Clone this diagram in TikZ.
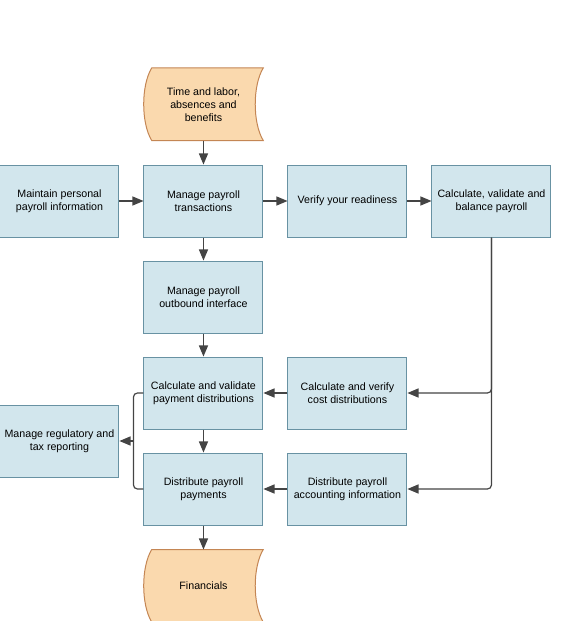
\documentclass[tikz,border=0pt]{standalone}
\usepackage{fontspec}
\setmainfont{Liberation Sans}
\usetikzlibrary{arrows}
\usetikzlibrary{calc}
\usetikzlibrary{positioning}

\definecolor{boxFill}{RGB}{210,230,237}
\definecolor{boxLine}{RGB}{104,146,163}
\definecolor{tapeFill}{RGB}{250,217,174}
\definecolor{tapeLine}{RGB}{196,134,84}
\definecolor{flowLine}{RGB}{68,68,68}

\begin{document}
\begin{tikzpicture} [
        node distance = 17.25pt and 18pt,
        every node/.style = {
          align = center,
          font = \fontsize{8}{9.75}\selectfont,
        },
        procbox/.style = {
          draw = boxLine,
          fill = boxFill,
          line width = 0.75pt,
          minimum width = 89.25pt,
          minimum height = 54pt,
          inner sep = 0pt,
        },
        tapebox/.style = {
          minimum width = 89.25pt,
          minimum height = 54pt,
          inner sep = 0pt,
        },
        tapeline/.style = {
          draw = tapeLine,
          fill = tapeFill,
          line width = 0.75pt,
        },
        flow/.style = {
          draw = flowLine,
          line width = 0.9pt,
          -triangle 45,
        },
        bracket/.style = {
          draw = flowLine,
          line width = 0.9pt,
          rounded corners = 3pt,
        }
      ]

    \useasboundingbox (0,0) rectangle (429.75pt,-465.75pt);

    % textboxes
    \node [procbox] at (152.6pt,-150.75pt) (trans) {Manage payroll\\transactions};
    \node [procbox, left = of trans] (maintain) {Maintain personal\\payroll information};
    \node [procbox, right = of trans] (verify) {Verify your readiness};
    \node [procbox, right = of verify] (balance) {Calculate, validate and\\balance payroll};
    \node [procbox, below = of trans] (outbound) {Manage payroll\\outbound interface};
    \node [procbox, below = of outbound] (validate) {Calculate and validate\\payment distributions};
    \node [procbox, right = of validate] (cost) {Calculate and verify\\cost distributions};
    \node [procbox, below = of validate] (distribute) {Distribute payroll\\payments};
    \node [procbox, right = of distribute] (accounting) {Distribute payroll\\accounting information};
    \coordinate (midVD) at ($(validate)!.5!(distribute)$);
    \node [procbox] at (midVD -| maintain) (regulatory) {Manage regulatory and\\tax reporting};

    % tapes
    \node [tapebox, above = 18pt of trans] (source) {};
    \node [tapebox, below = 18pt of distribute] (financials) {};
    \foreach \t in {source, financials} {
      \path[tapeline] ($(\t.north west)+(6pt,0)$) -- (\t.north east)
        .. controls ($(\t.east)+(-8pt,14pt)$) and ($(\t.east)+(-8pt,-14pt)$) .. (\t.south east)
        -- ($(\t.south west)+(6pt,0)$)
        .. controls ($(\t.west)+(-2pt,-14pt)$) and ($(\t.west)+(-2pt,14pt)$) .. cycle;
    }
    \node at (source) {Time and labor,\\absences and\\benefits};
    \node at (financials) {Financials};

    \draw[flow] (source) -- (trans);
    \draw[flow] (maintain) -- (trans);
    \draw[flow] (trans) -- (verify);
    \draw[flow] (verify) -- (balance);
    \draw[flow] (trans) -- (outbound);
    \draw[flow] (outbound) -- (validate);
    \draw[flow] (validate) -- (distribute);
    \draw[flow] (distribute) -- (financials);
    \draw[flow] (cost) -- (validate);
    \draw[flow] (accounting) -- (distribute);

    \draw[flow, rounded corners = 3pt] (balance.south) |- (cost.east);
    \draw[flow, rounded corners = 3pt] (balance.south) |- (accounting.east);

    \coordinate (brkTop) at ($(validate.west)+(-7.5pt,0)$);
    \draw[bracket] (validate.west) -- (brkTop) |- (distribute.west);
    \draw[flow] (brkTop |- regulatory.east) -- (regulatory.east);
  \end{tikzpicture}
\end{document}
